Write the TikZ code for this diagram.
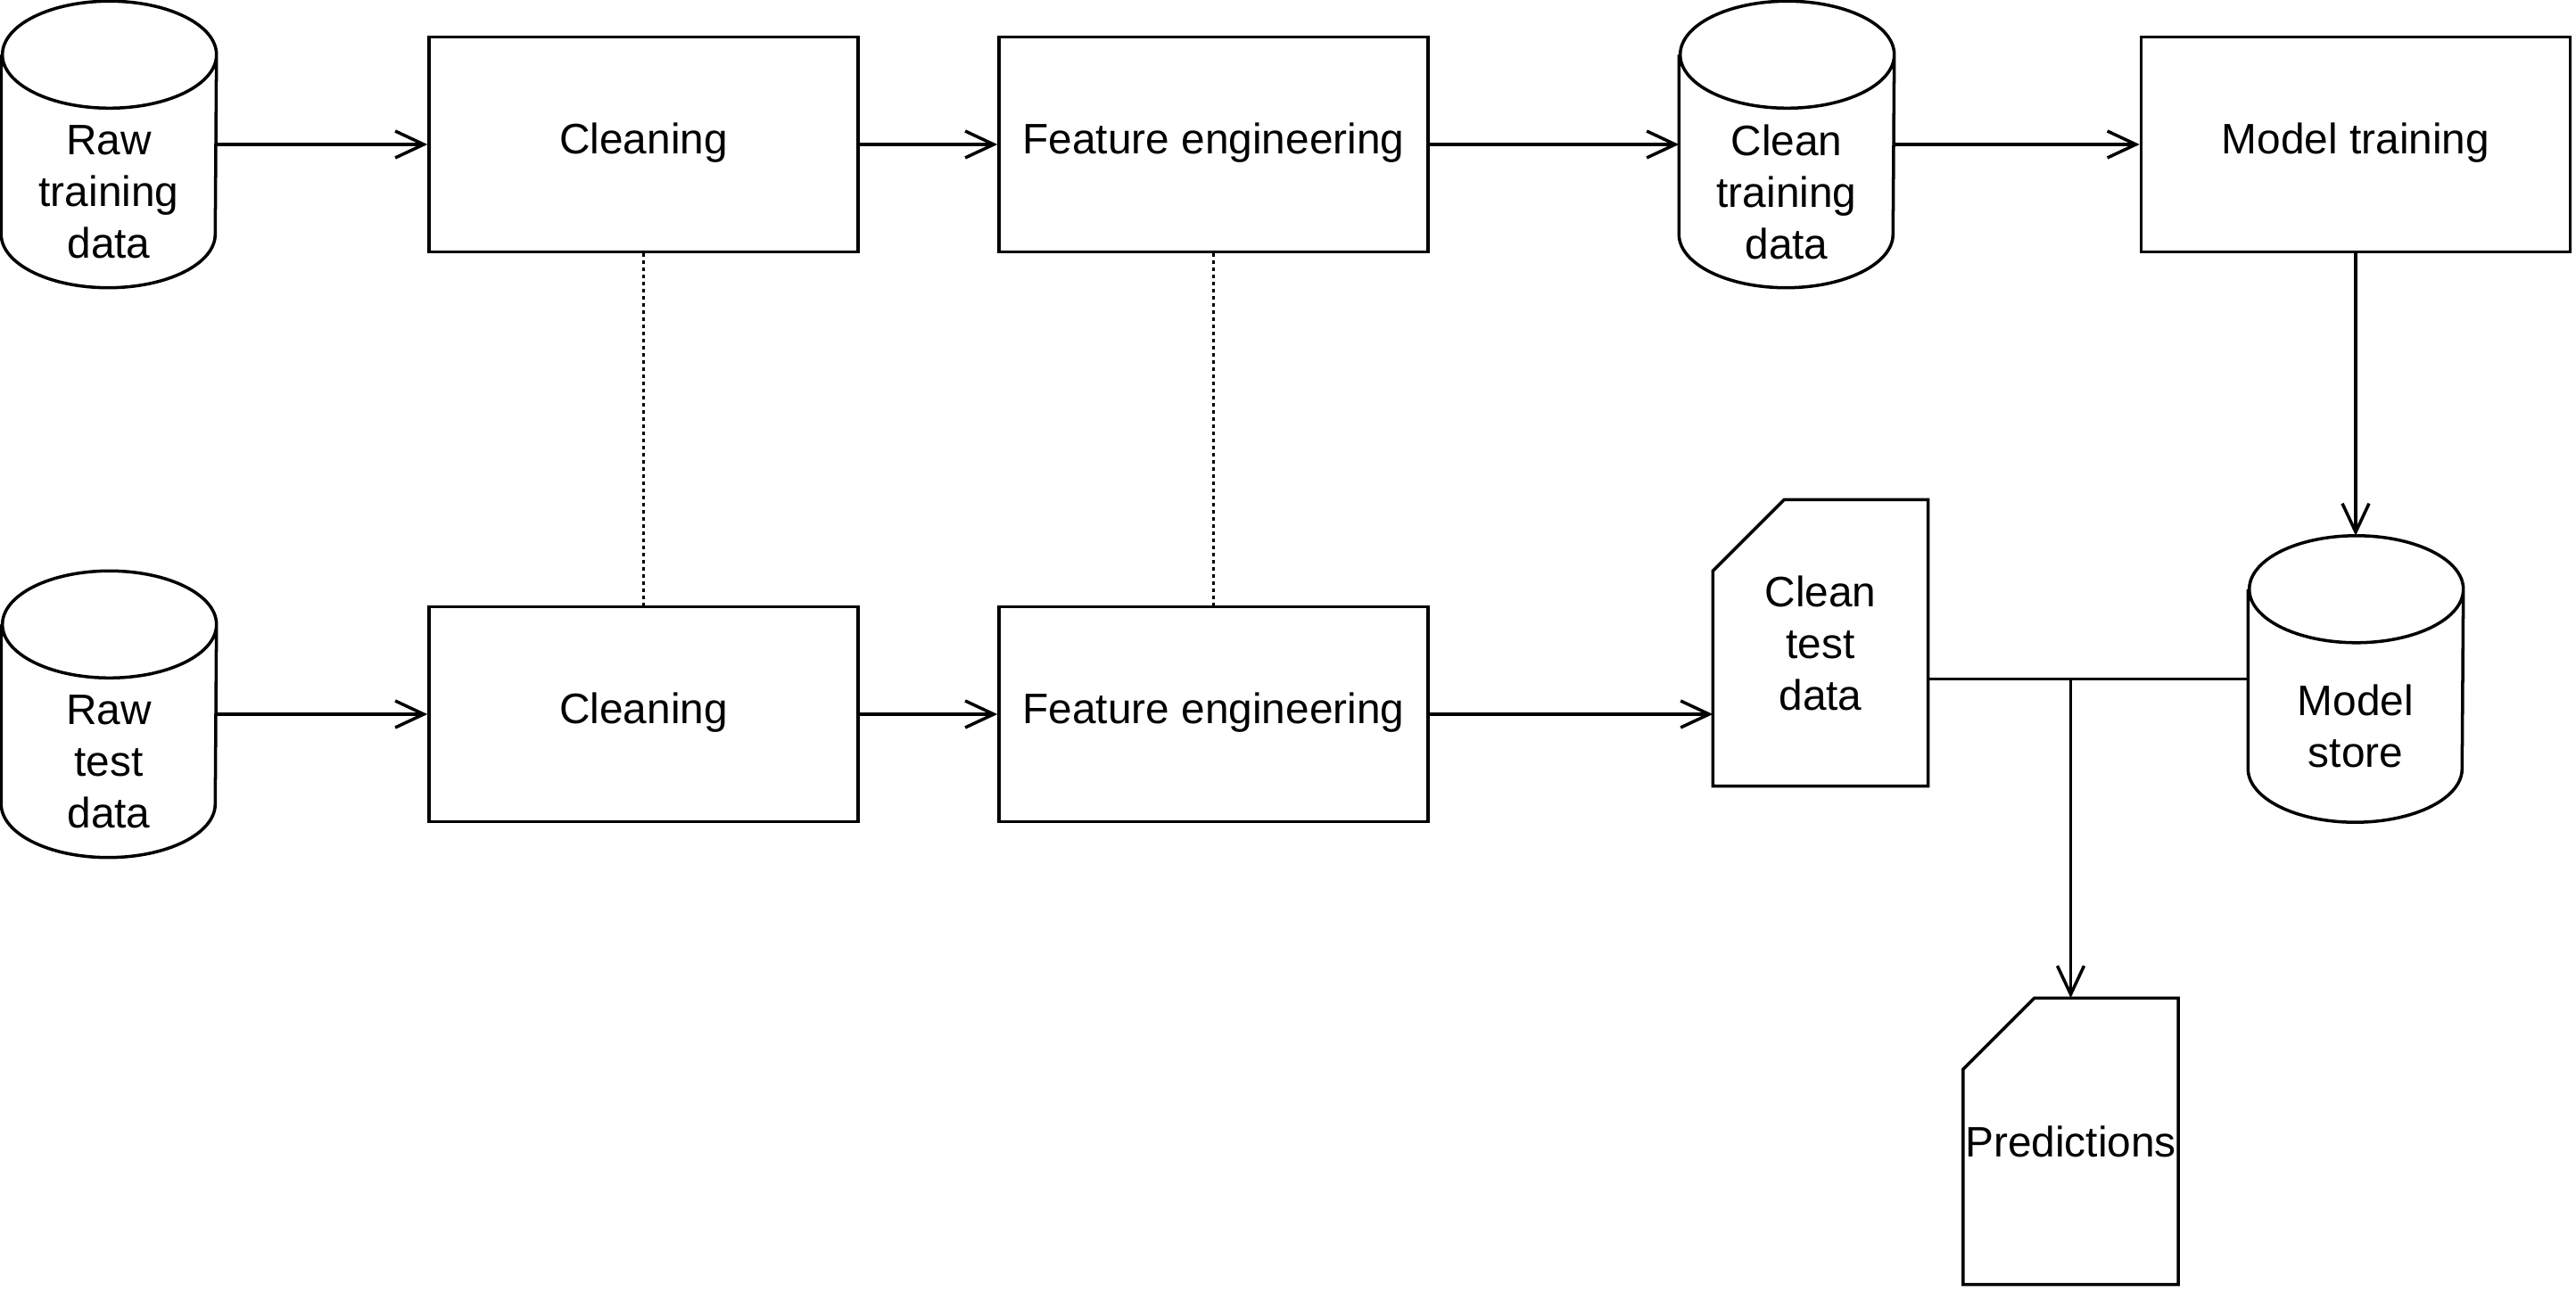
\documentclass[tikz,border=0pt]{standalone}
\usepackage{fontspec}
\setmainfont{Liberation Sans}
\usetikzlibrary{arrows.meta}

\tikzset{
	every node/.style={font=\fontsize{13.6}{16.5}\selectfont},
	block/.style={draw, line width=1pt, minimum width=4.81cm, minimum height=2.41cm, align=center, text height=0.8em, text depth=0.22em},
	datastore/.style={minimum width=2.4cm, minimum height=3.2cm, inner sep=0pt,
		append after command={\pgfextra{\let\cylnode\tikzlastnode
			\draw[line width=1pt] ([yshift=-0.6cm]\cylnode.north west) -- ([yshift=0.6cm]\cylnode.south west)
				arc[start angle=180, end angle=360, x radius=1.2cm, y radius=0.6cm]
				-- ([yshift=-0.6cm]\cylnode.north east)
				arc[start angle=0, end angle=360, x radius=1.2cm, y radius=0.6cm];}}},
	storetext/.style={align=center, yshift=-0.53cm},
	docbox/.style={minimum width=2.4cm, minimum height=3.2cm, inner sep=0pt, align=center,
		append after command={\pgfextra{\let\docnode\tikzlastnode
			\draw[line width=1pt] ([xshift=0.8cm]\docnode.north west) -- (\docnode.north east)
				-- (\docnode.south east) -- (\docnode.south west)
				-- ([yshift=-0.8cm]\docnode.north west) -- cycle;}}},
	flow/.style={line width=1pt, -{Straight Barb[length=0.32cm,width=0.3cm]}},
	link/.style={line width=1pt, dash pattern=on 0.033cm off 0.047cm},
}

\begin{document}
\begin{tikzpicture}
			%%%%% START %%%%%
			\useasboundingbox (0, 0) rectangle (28.88, 14.48);
			
			% training row
			\node[datastore, label={[storetext]center:Raw\\training\\data}] (rawtrain) at (1.22, 12.86) {};
			\node[block] (clean1) at (7.215, 12.86) {Cleaning};
			\node[block] (feat1) at (13.605, 12.86) {Feature engineering};
			\node[datastore, label={[storetext]center:Clean\\training\\data}] (cleantrain) at (20.03, 12.86) {};
			\node[block] (train) at (26.41, 12.86) {Model training};
			
			% test row
			\node[datastore, label={[storetext]center:Raw\\test\\data}] (rawtest) at (1.22, 6.47) {};
			\node[block] (clean2) at (7.215, 6.47) {Cleaning};
			\node[block] (feat2) at (13.605, 6.47) {Feature engineering};
			\node[docbox] (cleantest) at (20.41, 7.27) {Clean\\test\\data};
			\node[datastore, label={[storetext]center:Model\\store}] (modelstore) at (26.41, 6.865) {};
			\node[docbox] (pred) at (23.215, 1.68) {Predictions};
			
			\draw[flow] (rawtrain) -- (clean1);
			\draw[flow] (clean1) -- (feat1);
			\draw[flow] (feat1) -- (cleantrain);
			\draw[flow] (cleantrain) -- (train);
			\draw[flow] (train) -- (modelstore);
			
			\draw[link] (clean1) -- (clean2);
			\draw[link] (feat1) -- (feat2);
			
			\draw[flow] (rawtest) -- (clean2);
			\draw[flow] (clean2) -- (feat2);
			\draw[flow] (feat2.east) -- (feat2.east -| cleantest.west);
			\draw[line width=1pt] (cleantest.east |- modelstore.center) -- (modelstore);
			\draw[flow] (pred.north |- modelstore.center) -- (pred.north);
			%%%%% END %%%%%
\end{tikzpicture}
\end{document}
